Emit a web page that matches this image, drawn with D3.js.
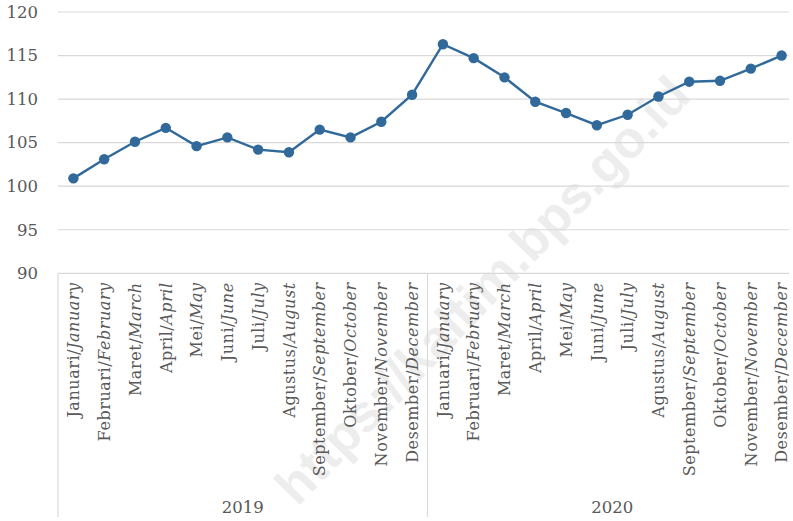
<!DOCTYPE html>
<html>
<head>
<meta charset="utf-8">
<script src="https://cdn.jsdelivr.net/npm/d3@7"></script>
<style>
  body { margin: 0; background: #ffffff; }
  svg { display: block; }
</style>
</head>
<body>
<script>
// monthly index values, 2019 and 2020
const years = ["2019", "2020"];
const months_id = ["Januari", "Februari", "Maret", "April", "Mei", "Juni",
    "Juli", "Agustus", "September", "Oktober", "November", "Desember"];
const months_en = ["January", "February", "March", "April", "May", "June",
    "July", "August", "September", "October", "November", "December"];
const values_2019 = [100.9, 103.1, 105.1, 106.7, 104.6, 105.6, 104.2, 103.9, 106.5, 105.6, 107.4, 110.5];
const values_2020 = [116.3, 114.7, 112.5, 109.7, 108.4, 107.0, 108.2, 110.3, 112.0, 112.1, 113.5, 115.0];
const y_ticks = [90, 95, 100, 105, 110, 115, 120];
const watermark = "https://kaltim.bps.go.id";

// flatten into one row per month
const chart_data = [];
years.forEach((year, yi) => {
    const vals = yi === 0 ? values_2019 : values_2020;
    months_id.forEach((m, mi) => {
        chart_data.push({ key: year + "-" + mi, year: year, id: m, en: months_en[mi], value: vals[mi] });
    });
});

const margin = { top: 12, left: 58 },
    width = 739,
    height = 261.3,
    bottom_edge = 517;

const svg = d3.select("body")
    .append("svg")
    .attr("width", 793)
    .attr("height", 521);

const serif = "'DejaVu Serif', serif";
const text_color = "#595959";
const grid_color = "#d9d9d9";

// watermark sits under everything
svg.append("text")
    .attr("transform", "translate(482,290) rotate(-46)")
    .attr("dy", "0.35em")
    .attr("text-anchor", "middle")
    .style("font-family", "'Liberation Sans', Arial, sans-serif")
    .style("font-weight", "bold")
    .style("font-size", "52px")
    .style("fill", "#ededed")
    .text(watermark);

const plot = svg.append("g")
    .attr("transform", `translate(${margin.left},${margin.top})`);

const x_scale = d3.scaleBand()
    .domain(chart_data.map(d => d.key))
    .range([0, width]);

const y_scale = d3.scaleLinear()
    .domain([90, 120])
    .range([height, 0]);

// horizontal gridlines
plot.selectAll(".grid")
    .data(y_ticks)
    .enter().append("line")
    .attr("x1", 0)
    .attr("x2", 731)
    .attr("y1", d => y_scale(d))
    .attr("y2", d => y_scale(d))
    .attr("stroke", grid_color)
    .attr("stroke-width", 1.2);

// y axis labels
const y_axis = plot.append("g")
    .call(d3.axisLeft(y_scale).tickValues(y_ticks).tickSize(0).tickPadding(20));
y_axis.select(".domain").remove();
y_axis.selectAll("text")
    .style("font-family", serif)
    .style("font-size", "16.5px")
    .style("fill", text_color);

// category axis frame: left edge and year separators
const year_edges = [0, 12].map(i => x_scale(chart_data[i].key));
plot.selectAll(".sep")
    .data(year_edges)
    .enter().append("line")
    .attr("x1", d => d)
    .attr("x2", d => d)
    .attr("y1", height)
    .attr("y2", bottom_edge - margin.top)
    .attr("stroke", grid_color)
    .attr("stroke-width", 1.2);

// month labels, rotated
const labels = plot.selectAll(".month")
    .data(chart_data)
    .enter().append("text")
    .attr("transform", d => `translate(${x_scale(d.key) + x_scale.bandwidth() / 2},${height + 9}) rotate(-90)`)
    .attr("dy", "0.36em")
    .attr("text-anchor", "end")
    .style("font-family", serif)
    .style("font-size", "16px")
    .style("letter-spacing", "0.55px")
    .style("fill", text_color);
labels.append("tspan").text(d => d.id + "/");
labels.append("tspan").style("font-style", "italic").text(d => d.en);

// year labels
plot.selectAll(".year")
    .data(years)
    .enter().append("text")
    .attr("x", (d, i) => year_edges[i] + x_scale.bandwidth() * 6)
    .attr("y", 501)
    .attr("text-anchor", "middle")
    .style("font-family", serif)
    .style("font-size", "16.5px")
    .style("fill", text_color)
    .text(d => d);

// the series line and markers
const line = d3.line()
    .x(d => x_scale(d.key) + x_scale.bandwidth() / 2)
    .y(d => y_scale(d.value));

plot.append("path")
    .datum(chart_data)
    .attr("d", line)
    .attr("fill", "none")
    .attr("stroke", "#31699a")
    .attr("stroke-width", 2.4);

plot.selectAll(".dot")
    .data(chart_data)
    .enter().append("circle")
    .attr("cx", d => x_scale(d.key) + x_scale.bandwidth() / 2)
    .attr("cy", d => y_scale(d.value))
    .attr("r", 5.2)
    .attr("fill", "#31699a");
</script>
</body>
</html>
